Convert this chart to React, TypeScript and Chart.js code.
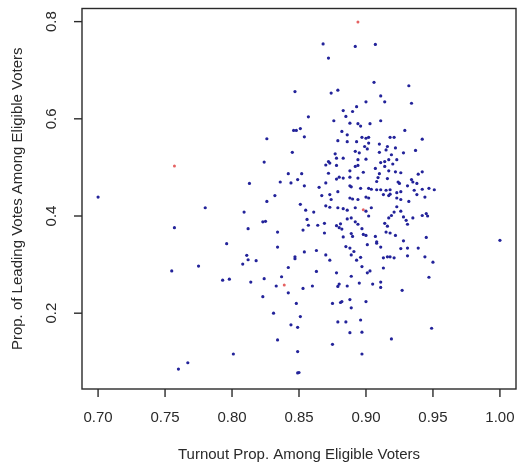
import { useEffect, useRef } from "react";
import { Chart, registerables } from "chart.js";

Chart.register(...registerables);

// [turnout proportion, leading-vote proportion]
const bluePoints: [number, number][] = [
  [0.700, 0.439], [0.757, 0.376], [0.755, 0.287], [0.760, 0.085], [0.767, 0.098],
  [0.775, 0.297], [0.780, 0.417], [0.796, 0.343], [0.793, 0.268], [0.798, 0.270],
  [0.801, 0.116], [0.808, 0.301], [0.809, 0.408], [0.811, 0.319], [0.812, 0.374],
  [0.812, 0.310], [0.813, 0.467], [0.814, 0.264], [0.818, 0.308], [0.823, 0.234],
  [0.824, 0.511], [0.823, 0.388], [0.825, 0.389], [0.824, 0.271], [0.826, 0.559],
  [0.826, 0.430], [0.831, 0.200], [0.832, 0.442], [0.834, 0.367], [0.834, 0.336],
  [0.833, 0.256], [0.834, 0.145], [0.837, 0.275], [0.836, 0.470], [0.842, 0.242],
  [0.842, 0.487], [0.844, 0.468], [0.845, 0.531], [0.842, 0.294], [0.844, 0.176],
  [0.847, 0.656], [0.846, 0.576], [0.848, 0.576], [0.851, 0.580], [0.847, 0.312],
  [0.847, 0.316], [0.848, 0.220], [0.849, 0.475], [0.849, 0.171], [0.849, 0.121],
  [0.849, 0.077], [0.850, 0.078], [0.851, 0.193], [0.851, 0.424], [0.852, 0.487],
  [0.853, 0.251], [0.854, 0.563], [0.853, 0.371], [0.854, 0.462], [0.854, 0.326],
  [0.855, 0.412], [0.857, 0.604], [0.856, 0.393], [0.857, 0.381], [0.860, 0.256],
  [0.861, 0.408], [0.863, 0.329], [0.863, 0.286], [0.865, 0.459], [0.867, 0.442],
  [0.864, 0.381],
  [0.868, 0.754], [0.872, 0.725], [0.874, 0.653], [0.879, 0.659], [0.892, 0.749],
  [0.907, 0.753], [0.906, 0.675], [0.911, 0.647], [0.932, 0.668],
  [0.875, 0.220], [0.881, 0.222], [0.882, 0.224], [0.888, 0.228], [0.889, 0.211],
  [0.900, 0.224], [0.879, 0.182], [0.885, 0.182], [0.896, 0.186], [0.888, 0.160],
  [0.897, 0.161], [0.875, 0.136], [0.897, 0.116], [0.919, 0.147], [0.927, 0.247],
  [0.949, 0.169], [1.000, 0.350],
  [0.893, 0.625], [0.900, 0.635], [0.883, 0.617], [0.890, 0.615], [0.885, 0.605],
  [0.876, 0.596], [0.888, 0.591], [0.894, 0.590], [0.896, 0.585], [0.903, 0.590],
  [0.882, 0.574], [0.886, 0.567], [0.897, 0.562], [0.900, 0.560], [0.902, 0.562],
  [0.879, 0.555], [0.886, 0.553], [0.893, 0.553], [0.902, 0.550], [0.899, 0.543],
  [0.901, 0.538], [0.892, 0.533], [0.877, 0.528], [0.895, 0.530], [0.883, 0.519],
  [0.878, 0.519], [0.872, 0.512], [0.873, 0.509], [0.870, 0.505], [0.894, 0.516],
  [0.900, 0.517], [0.878, 0.504], [0.892, 0.502], [0.894, 0.504], [0.888, 0.493],
  [0.872, 0.488], [0.898, 0.490], [0.907, 0.498], [0.878, 0.476], [0.880, 0.480],
  [0.883, 0.478], [0.888, 0.480], [0.894, 0.478], [0.870, 0.468], [0.888, 0.462],
  [0.889, 0.460], [0.896, 0.457], [0.902, 0.457], [0.904, 0.455], [0.908, 0.471],
  [0.879, 0.450], [0.908, 0.454],
  [0.914, 0.635], [0.934, 0.632], [0.911, 0.596], [0.929, 0.576], [0.942, 0.558],
  [0.918, 0.562], [0.921, 0.562], [0.910, 0.548], [0.916, 0.543], [0.915, 0.536],
  [0.922, 0.540], [0.937, 0.535], [0.928, 0.530], [0.910, 0.531], [0.919, 0.526],
  [0.917, 0.516], [0.914, 0.512], [0.911, 0.510], [0.923, 0.516], [0.920, 0.507],
  [0.914, 0.502], [0.917, 0.493], [0.922, 0.491], [0.926, 0.489], [0.942, 0.491],
  [0.939, 0.486], [0.910, 0.487], [0.909, 0.479], [0.916, 0.477], [0.924, 0.470],
  [0.925, 0.467], [0.934, 0.475], [0.935, 0.470], [0.938, 0.467], [0.931, 0.462],
  [0.942, 0.455], [0.947, 0.457], [0.951, 0.454], [0.911, 0.454], [0.915, 0.453],
  [0.918, 0.454], [0.936, 0.453], [0.923, 0.448], [0.926, 0.450],
  [0.873, 0.444], [0.874, 0.434], [0.888, 0.437], [0.890, 0.435], [0.894, 0.434],
  [0.900, 0.439], [0.902, 0.437], [0.870, 0.421], [0.873, 0.418], [0.879, 0.417],
  [0.883, 0.415], [0.886, 0.412], [0.892, 0.417], [0.900, 0.410], [0.904, 0.417],
  [0.889, 0.396], [0.886, 0.394], [0.892, 0.388], [0.894, 0.383], [0.881, 0.384],
  [0.869, 0.385], [0.878, 0.380], [0.880, 0.376], [0.882, 0.373], [0.902, 0.400],
  [0.897, 0.374], [0.869, 0.365], [0.889, 0.364], [0.890, 0.358], [0.898, 0.362],
  [0.900, 0.360], [0.883, 0.357], [0.907, 0.358], [0.908, 0.344], [0.901, 0.341],
  [0.885, 0.337], [0.888, 0.334], [0.889, 0.320], [0.891, 0.327], [0.870, 0.320],
  [0.896, 0.315], [0.893, 0.309], [0.873, 0.309], [0.897, 0.296], [0.903, 0.287],
  [0.901, 0.283], [0.878, 0.283], [0.889, 0.276], [0.895, 0.262], [0.879, 0.255],
  [0.880, 0.260], [0.886, 0.256], [0.905, 0.260],
  [0.913, 0.444], [0.917, 0.442], [0.918, 0.445], [0.923, 0.437], [0.926, 0.434],
  [0.932, 0.430], [0.938, 0.444], [0.944, 0.439], [0.923, 0.419], [0.926, 0.410],
  [0.921, 0.408], [0.919, 0.401], [0.917, 0.396], [0.928, 0.398], [0.930, 0.391],
  [0.935, 0.396], [0.942, 0.401], [0.945, 0.405], [0.946, 0.400], [0.931, 0.383],
  [0.914, 0.385], [0.916, 0.379], [0.915, 0.367], [0.918, 0.365], [0.922, 0.360],
  [0.945, 0.356], [0.908, 0.347], [0.928, 0.349], [0.911, 0.336], [0.926, 0.333],
  [0.931, 0.334], [0.939, 0.334], [0.913, 0.314], [0.916, 0.316], [0.918, 0.316],
  [0.921, 0.314], [0.931, 0.318], [0.944, 0.316], [0.913, 0.293], [0.950, 0.305],
  [0.911, 0.264], [0.911, 0.253], [0.947, 0.274],
];

const redPoints: [number, number][] = [
  [0.757, 0.503], [0.839, 0.258], [0.894, 0.799], [0.898, 0.413],
];

const xTickValues = [0.7, 0.75, 0.8, 0.85, 0.9, 0.95, 1.0];
const xTickLabels = ["0.70", "0.75", "0.80", "0.85", "0.90", "0.95", "1.00"];
const yTickValues = [0.2, 0.4, 0.6, 0.8];
const yTickLabels = ["0.2", "0.4", "0.6", "0.8"];
const xTitle = "Turnout Prop. Among Eligible Voters";
const yTitle = "Prop. of Leading Votes Among Eligible Voters";

const xRange = [0.688, 1.012];
const yRange = [0.044, 0.827];

const INK = "#2a2a2a";
const FONT = "15px 'Liberation Sans', Arial, sans-serif";

const rAxesPlugin = {
  id: "rAxes",
  afterDraw(chart: any) {
    const { ctx, chartArea: a, scales } = chart;
    const xs = scales.x;
    const ys = scales.y;
    ctx.save();
    ctx.strokeStyle = INK;
    ctx.lineWidth = 1.4;
    ctx.strokeRect(a.left, a.top, a.right - a.left, a.bottom - a.top);
    ctx.fillStyle = INK;
    ctx.font = FONT;
    ctx.textAlign = "center";
    ctx.textBaseline = "middle";
    xTickValues.forEach((v, i) => {
      const px = xs.getPixelForValue(v);
      ctx.beginPath();
      ctx.moveTo(px, a.bottom);
      ctx.lineTo(px, a.bottom + 8);
      ctx.stroke();
      ctx.fillText(xTickLabels[i], px, a.bottom + 29);
    });
    yTickValues.forEach((v, i) => {
      const py = ys.getPixelForValue(v);
      ctx.beginPath();
      ctx.moveTo(a.left - 8, py);
      ctx.lineTo(a.left, py);
      ctx.stroke();
      ctx.save();
      ctx.translate(a.left - 30, py);
      ctx.rotate(-Math.PI / 2);
      ctx.fillText(yTickLabels[i], 0, 0);
      ctx.restore();
    });
    ctx.fillText(xTitle, (a.left + a.right) / 2, a.bottom + 66);
    ctx.save();
    ctx.translate(a.left - 64, (a.top + a.bottom) / 2);
    ctx.rotate(-Math.PI / 2);
    ctx.fillText(yTitle, 0, 0);
    ctx.restore();
    ctx.restore();
  },
};

export default function App() {
  const ref = useRef<HTMLCanvasElement | null>(null);
  useEffect(() => {
    if (!ref.current) return;
    const chart = new Chart(ref.current, {
      type: "scatter",
      data: {
        datasets: [
          {
            data: bluePoints.map(([x, y]) => ({ x, y })),
            backgroundColor: "#23239a",
            borderWidth: 0,
            pointRadius: 1.6,
          },
          {
            data: redPoints.map(([x, y]) => ({ x, y })),
            backgroundColor: "rgba(225,70,70,0.85)",
            borderWidth: 0,
            pointRadius: 1.5,
          },
        ],
      },
      options: {
        animation: false,
        responsive: false,
        devicePixelRatio: 1,
        layout: { padding: { left: 82, right: 1.5, top: 8.5, bottom: 81 } },
        plugins: { legend: { display: false }, tooltip: { enabled: false } },
        scales: {
          x: { type: "linear", min: xRange[0], max: xRange[1], display: false },
          y: { type: "linear", min: yRange[0], max: yRange[1], display: false },
        },
      },
      plugins: [rAxesPlugin],
    });
    return () => chart.destroy();
  }, []);
  return (
    <div style={{ position: "fixed", left: 0, top: 0, width: 520, height: 470, background: "#fff" }}>
      <canvas ref={ref} width={520} height={470} />
    </div>
  );
}
